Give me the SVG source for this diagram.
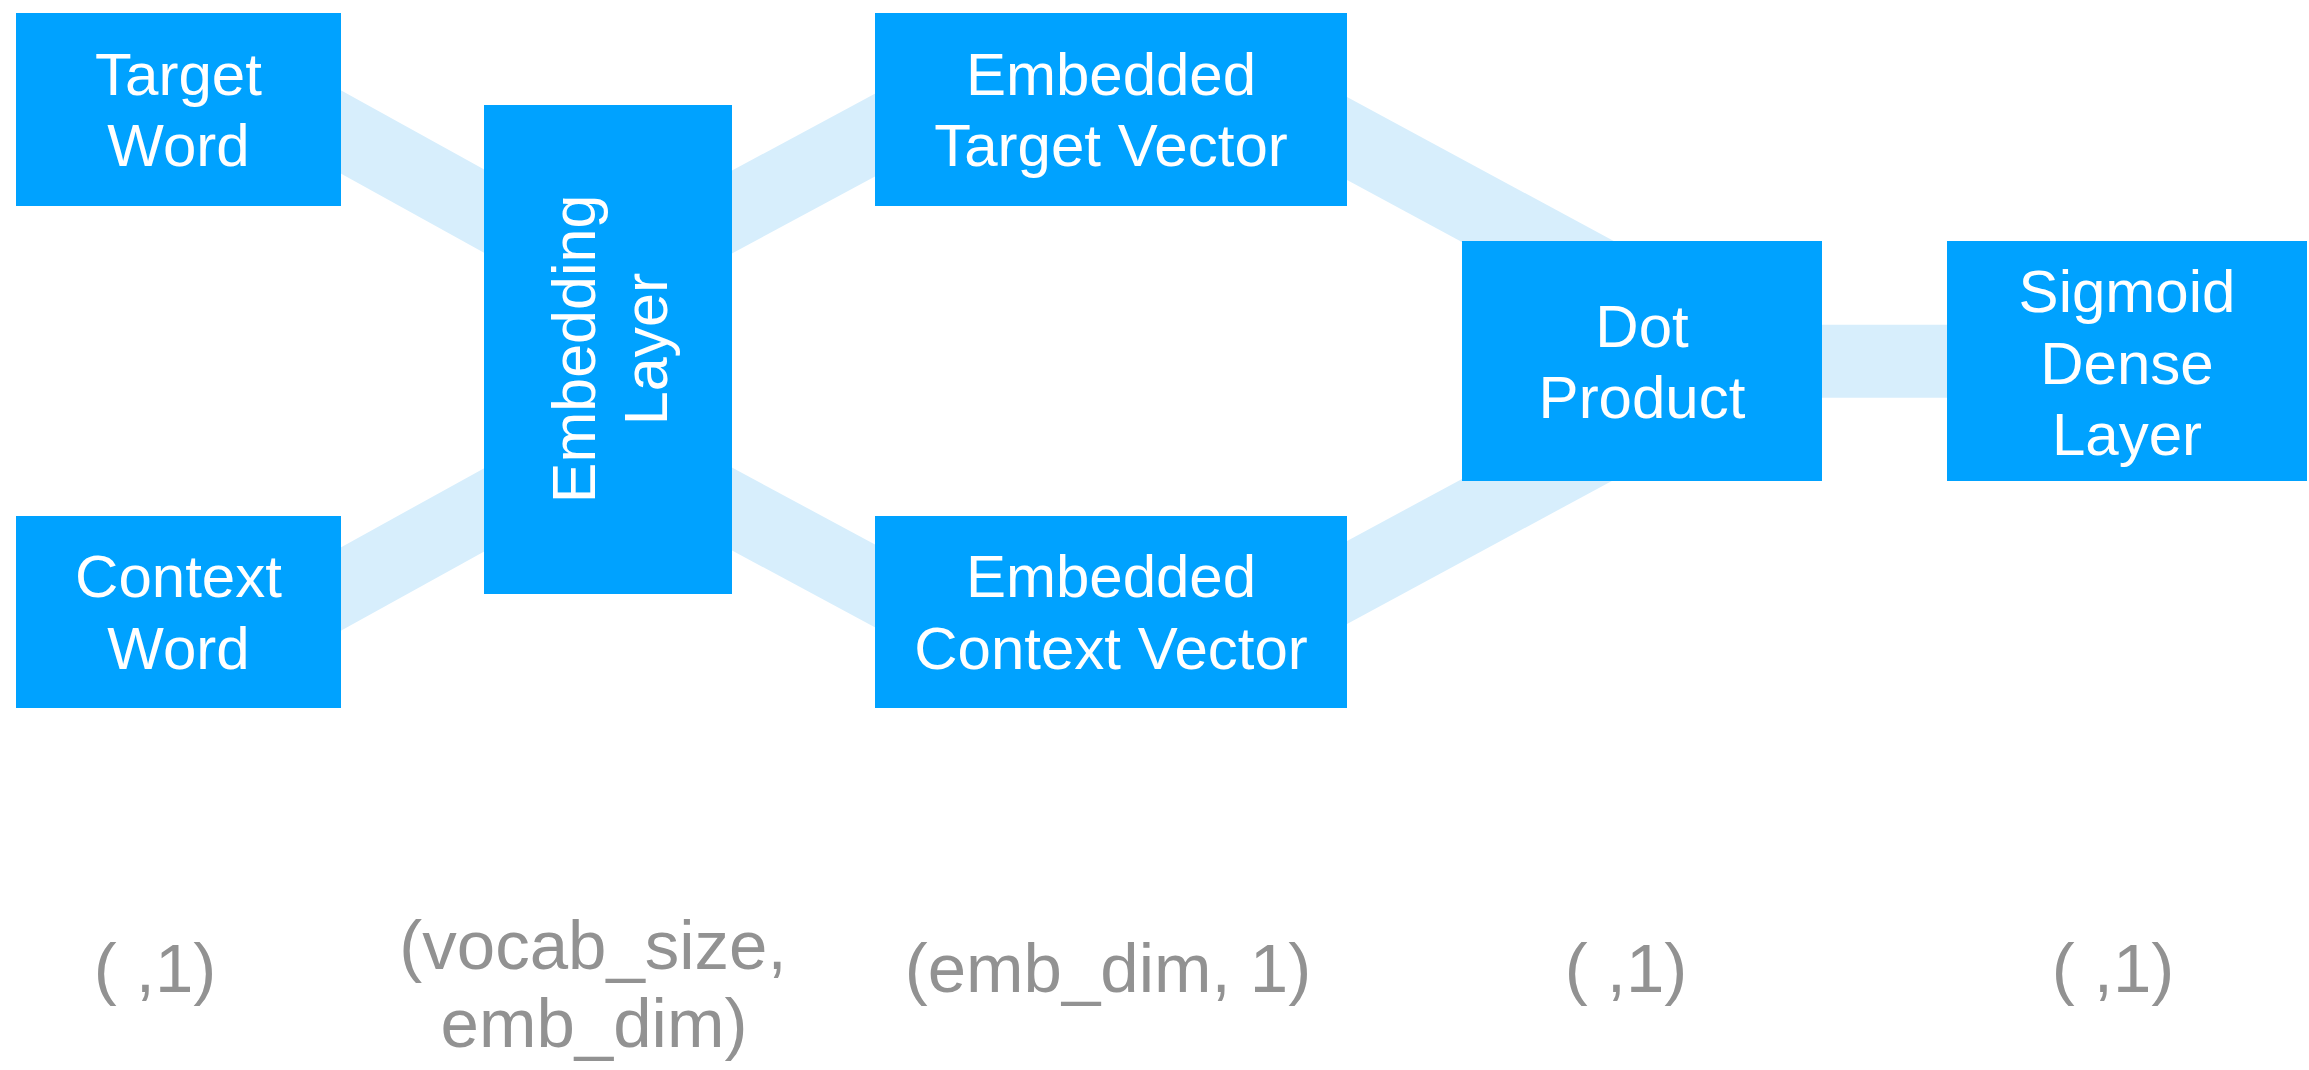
<svg xmlns="http://www.w3.org/2000/svg" width="2309" height="1070" viewBox="0 0 2309 1070">
<style>
.box{fill:#00A2FF}
.lbl{font-family:"Liberation Sans",Arial,Helvetica,sans-serif;font-size:60px;fill:#FFFFFF;text-anchor:middle}
.rot{font-size:61px}
.dim{font-family:"Liberation Sans",Arial,Helvetica,sans-serif;font-size:69px;fill:#929292;text-anchor:middle}
.band{stroke:#D7EEFC;stroke-width:73;stroke-linecap:butt;fill:none}
</style>
<rect width="2309" height="1070" fill="#FFFFFF"/>
<g id="connectors">
<line class="band" x1="320" y1="120.4" x2="510" y2="225.4"/>
<line class="band" x1="320" y1="600.6" x2="510" y2="495.6"/>
<line class="band" x1="710" y1="223.8" x2="900" y2="121.6"/>
<line class="band" x1="710" y1="497.2" x2="900" y2="599.4"/>
<line class="band" x1="1320" y1="123.9" x2="1620" y2="285.9"/>
<line class="band" x1="1320" y1="597.1" x2="1620" y2="435.1"/>
<line class="band" x1="1800" y1="361.3" x2="1970" y2="361.3"/>
</g>
<g id="target-word">
<rect class="box" x="16" y="13" width="325" height="193"/>
<text class="lbl" x="178.5" y="95">Target</text>
<text class="lbl" x="178.5" y="166">Word</text>
</g>
<g id="context-word">
<rect class="box" x="16" y="516" width="325" height="192"/>
<text class="lbl" x="178.5" y="597">Context</text>
<text class="lbl" x="178.5" y="669">Word</text>
</g>
<g id="embedding-layer">
<rect class="box" x="484" y="105" width="248" height="489"/>
<g transform="translate(608,349) rotate(-90)">
<text class="lbl rot" x="0" y="-13">Embedding</text>
<text class="lbl rot" x="0" y="59">Layer</text>
</g>
</g>
<g id="embedded-target-vector">
<rect class="box" x="875" y="13" width="472" height="193"/>
<text class="lbl" x="1111" y="95">Embedded</text>
<text class="lbl" x="1111" y="166">Target Vector</text>
</g>
<g id="embedded-context-vector">
<rect class="box" x="875" y="516" width="472" height="192"/>
<text class="lbl" x="1111" y="597">Embedded</text>
<text class="lbl" x="1111" y="669">Context Vector</text>
</g>
<g id="dot-product">
<rect class="box" x="1462" y="241" width="360" height="240"/>
<text class="lbl" x="1642" y="347">Dot</text>
<text class="lbl" x="1642" y="418">Product</text>
</g>
<g id="sigmoid-dense-layer">
<rect class="box" x="1947" y="241" width="360" height="240"/>
<text class="lbl" x="2127" y="312">Sigmoid</text>
<text class="lbl" x="2127" y="384">Dense</text>
<text class="lbl" x="2127" y="455">Layer</text>
</g>
<g id="dimensions">
<text class="dim" x="155" y="992">( ,1)</text>
<text class="dim" x="593" y="969">(vocab_size,</text>
<text class="dim" x="594" y="1047">emb_dim)</text>
<text class="dim" x="1108" y="992">(emb_dim, 1)</text>
<text class="dim" x="1626" y="992">( ,1)</text>
<text class="dim" x="2113" y="992">( ,1)</text>
</g>
</svg>
